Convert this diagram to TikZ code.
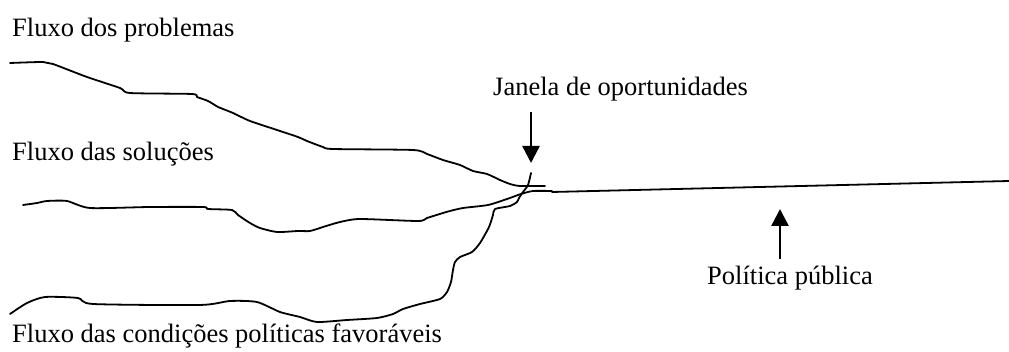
\documentclass[tikz,border=0pt]{standalone}
\usepackage{fontspec}
\setmainfont{Liberation Serif}
\usetikzlibrary{arrows.meta}
\begin{document}
\begin{tikzpicture}[x=1pt,y=-1pt,
  flow/.style={line width=1.8pt,line join=round,line cap=round},
  lbl/.style={anchor=base west,inner sep=0pt,font=\fontsize{26.5}{30}\selectfont},
  pointer/.style={line width=2.4pt,-{Triangle[width=17pt,length=17pt]}}]
\useasboundingbox (0,0) rectangle (1009,352);
% labels
\node[lbl] (prob) at (12,37) {Fluxo dos problemas};
\node[lbl] (sol) at (12,161) {Fluxo das soluções};
\node[lbl] (cond) at (12,343) {Fluxo das condições políticas favoráveis};
\node[lbl] (jan) at (493,96) {Janela de oportunidades};
\node[lbl] (pol) at (707,285) {Política pública};
% streams
\draw[flow] plot[smooth,tension=0.4] coordinates {(10,63) (43,62) (53,64) (87,77) (120,88) (130,93) (192,94) (197,97) (208,101) (218,107) (223,109) (233,113) (250,121) (277,130) (298,137) (307,141) (323,147) (333,149) (413,150) (427,154) (443,160) (460,165) (473,171) (487,174) (500,180) (510,184) (520,186) (545,186)};
\draw[flow] plot[smooth,tension=0.4] coordinates {(23,205) (37,203) (47,201) (67,201) (90,208) (150,207) (203,207) (208,209) (232,210) (238,215) (250,223) (260,228) (277,232) (298,231) (310,231) (323,227) (340,222) (360,219) (418,221) (427,218) (443,213) (450,211) (463,208) (488,205) (507,199) (521,194) (533,191) (552,191)};
\draw[flow] plot[smooth,tension=0.4] coordinates {(10,314) (27,303) (45,297) (78,298) (93,304) (200,305) (230,301) (257,302) (280,312) (300,317) (317,322) (347,320) (377,318) (393,314) (403,309) (420,304) (440,299) (447,292) (451,282) (453,270) (455,262) (460,257) (472,252) (480,243) (489,227) (493,215) (495,209) (510,206) (517,202) (519,198) (523,192) (528,185) (531,173)};
% policy line
\coordinate (pstart) at (552,192);
\coordinate (pend) at (1009,181);
\draw[flow] (pstart) -- (pend);
% arrows
\coordinate (jtop) at (531,112);
\coordinate (jtip) at (531,163);
\draw[pointer] (jtop) -- (jtip);
\coordinate (pbot) at (780,259);
\coordinate (ptip) at (780,209);
\draw[pointer] (pbot) -- (ptip);
\end{tikzpicture}
\end{document}
